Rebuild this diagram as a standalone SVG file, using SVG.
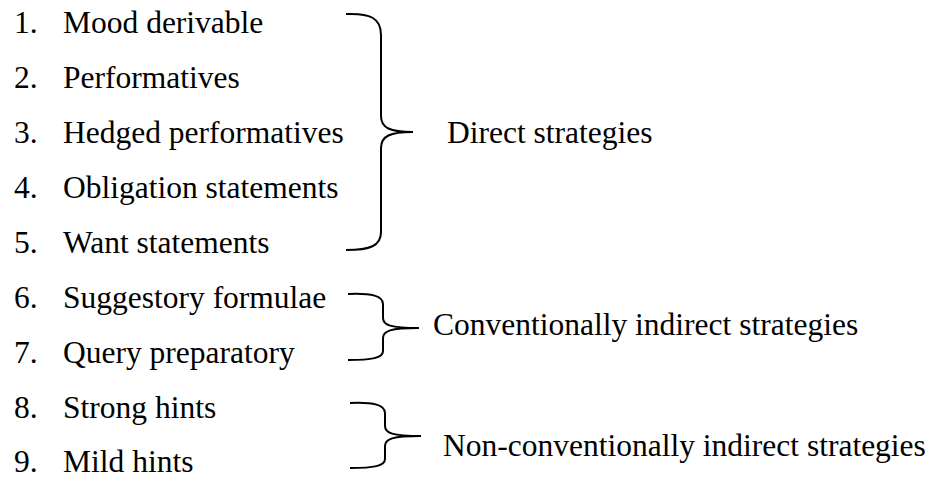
<svg xmlns="http://www.w3.org/2000/svg" width="940" height="478" viewBox="0 0 940 478">
<style>
text{font-family:"Liberation Serif","Times New Roman",serif;font-size:31.5px;fill:#000}
.b{fill:none;stroke:#000;stroke-width:2;stroke-linecap:butt}
</style>
<rect width="940" height="478" fill="#fff"/>
<g id="items">
<g id="i1"><text x="14" y="33">1.</text><text x="63" y="33">Mood derivable</text></g>
<g id="i2"><text x="14" y="88">2.</text><text x="63" y="88">Performatives</text></g>
<g id="i3"><text x="14" y="143">3.</text><text x="63" y="143">Hedged performatives</text></g>
<g id="i4"><text x="14" y="198">4.</text><text x="63" y="198">Obligation statements</text></g>
<g id="i5"><text x="14" y="253">5.</text><text x="63" y="253">Want statements</text></g>
<g id="i6"><text x="14" y="308">6.</text><text x="63" y="308">Suggestory formulae</text></g>
<g id="i7"><text x="14" y="363">7.</text><text x="63" y="363">Query preparatory</text></g>
<g id="i8"><text x="14" y="418">8.</text><text x="63" y="418">Strong hints</text></g>
<g id="i9"><text x="14" y="472">9.</text><text x="63" y="472">Mild hints</text></g>
</g>
<g id="labels">
<g id="direct"><text x="447" y="143">Direct strategies</text></g>
<g id="conv"><text x="433" y="335">Conventionally indirect strategies</text></g>
<g id="nonconv"><text x="443" y="456">Non-conventionally indirect strategies</text></g>
</g>
<g id="connectors">
<path class="b" d="M346,14 C370,13 381,18 381,35 L381,116 C381,128 390,132 413,132 C390,132 381,136 381,148 L381,232 C381,246 370,250 346,250"/>
<path class="b" d="M348,294 C372,293 383,296 383,304 L383,318 C383,325 390,328 419,328 C390,328 383,331 383,338 L383,351 C383,358 372,360 348,360"/>
<path class="b" d="M350,403 C374,402 385,405 385,413 L385,426 C385,433 392,436 421,436 C392,436 385,439 385,446 L385,459 C385,466 374,468 350,468"/>
</g>
</svg>
